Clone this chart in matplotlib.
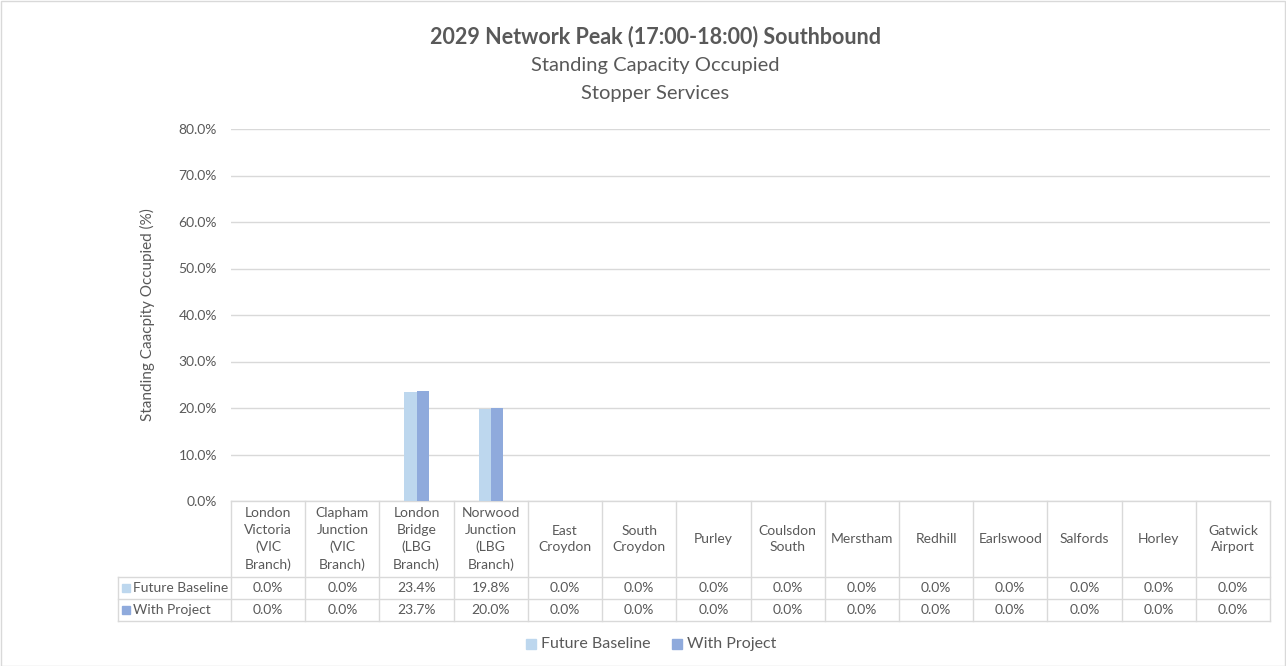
import matplotlib
matplotlib.use("Agg")
import matplotlib.pyplot as plt
from matplotlib.transforms import blended_transform_factory
from matplotlib.patches import Rectangle
import numpy as np

categories = ["London\nVictoria\n(VIC\nBranch)", "Clapham\nJunction\n(VIC\nBranch)",
              "London\nBridge\n(LBG\nBranch)", "Norwood\nJunction\n(LBG\nBranch)",
              "East\nCroydon", "South\nCroydon", "Purley", "Coulsdon\nSouth", "Merstham",
              "Redhill", "Earlswood", "Salfords", "Horley", "Gatwick\nAirport"]
future_baseline = [0.0, 0.0, 23.4, 19.8, 0.0, 0.0, 0.0, 0.0, 0.0, 0.0, 0.0, 0.0, 0.0, 0.0]
with_project = [0.0, 0.0, 23.7, 20.0, 0.0, 0.0, 0.0, 0.0, 0.0, 0.0, 0.0, 0.0, 0.0, 0.0]
series_names = ["Future Baseline", "With Project"]
yticks = [0, 10, 20, 30, 40, 50, 60, 70, 80]

plt.rcParams['font.family'] = ['Lato', 'DejaVu Sans']
TXT = "#595959"
GRID = "#D9D9D9"
C1 = "#BDD7EE"
C2 = "#8FAADC"

W, H = 1286, 666
fig = plt.figure(figsize=(W / 100, H / 100), dpi=100)
ax_l, ax_r, ax_t, ax_b = 231, 1270, 129, 501
ax = fig.add_axes([ax_l / W, 1 - ax_b / H, (ax_r - ax_l) / W, (ax_b - ax_t) / H])

n = len(categories)
x = np.arange(n)
bw = 0.165
ax.bar(x - bw / 2, future_baseline, bw, color=C1, zorder=3)
ax.bar(x + bw / 2, with_project, bw, color=C2, zorder=3)
ax.set_xlim(-0.5, n - 0.5)
ax.set_ylim(0, 80)
ax.set_yticks(yticks)
ax.set_yticklabels([f"{v:.1f}%" for v in yticks], color=TXT, fontsize=10)
ax.tick_params(axis='y', length=0, pad=10)
ax.set_xticks([])
ax.grid(axis='y', color=GRID, linewidth=1, zorder=0)
for s in ax.spines.values():
    s.set_visible(False)
ax.set_ylabel("Standing Caacpity Occupied (%)", color=TXT, fontsize=11, labelpad=17)

# table
tr = blended_transform_factory(ax.transData, ax.transAxes)
axh = ax_b - ax_t
def ay(py):
    return (ax_b - py) / axh
y_hdr_top, y_r1, y_r2, y_r3 = ay(501), ay(577), ay(599), ay(621)
x_left = (118 - ax_l) / ((ax_r - ax_l) / n) - 0.5
lkw = dict(color=GRID, linewidth=1, transform=tr, clip_on=False)
for b in np.arange(n + 1) - 0.5:
    ax.plot([b, b], [y_hdr_top, y_r3], **lkw)
for yy in [y_hdr_top]:
    ax.plot([-0.5, n - 0.5], [yy, yy], **lkw)
for yy in [y_r1, y_r2, y_r3]:
    ax.plot([x_left, n - 0.5], [yy, yy], **lkw)
ax.plot([x_left, x_left], [y_r1, y_r3], **lkw)

for i, c in enumerate(categories):
    ax.text(i, (y_hdr_top + y_r1) / 2, c, transform=tr, ha='center', va='center',
            fontsize=10, color=TXT, linespacing=1.45, clip_on=False)
for row, (vals, name, col) in enumerate([(future_baseline, series_names[0], C1),
                                          (with_project, series_names[1], C2)]):
    ytop = [y_r1, y_r2][row]
    ybot = [y_r2, y_r3][row]
    yc = (ytop + ybot) / 2
    for i, v in enumerate(vals):
        ax.text(i, yc, f"{v:.1f}%", transform=tr, ha='center', va='center',
                fontsize=10, color=TXT, clip_on=False)
    sq = 8 / axh
    ax.add_patch(Rectangle((x_left + 0.06, yc - sq / 2), 0.105, sq, transform=tr,
                           color=col, clip_on=False))
    ax.text(x_left + 0.2, yc, name, transform=tr, ha='left', va='center',
            fontsize=10, color=TXT, clip_on=False)

# titles
fig.text(655 / W, 1 - 37 / H, "2029 Network Peak (17:00-18:00) Southbound", ha='center',
         va='center', fontsize=15.5, fontweight='bold', color=TXT)
fig.text(655 / W, 1 - 65 / H, "Standing Capacity Occupied", ha='center', va='center',
         fontsize=14.5, color=TXT)
fig.text(655 / W, 1 - 93 / H, "Stopper Services", ha='center', va='center',
         fontsize=14.5, color=TXT)

# legend
fig.patches.append(Rectangle((526 / W, 1 - 649 / H), 10 / W, 10 / H, transform=fig.transFigure,
                             color=C1))
fig.text(541 / W, 1 - 644 / H, series_names[0], ha='left', va='center', fontsize=11.5, color=TXT)
fig.patches.append(Rectangle((672 / W, 1 - 649 / H), 10 / W, 10 / H, transform=fig.transFigure,
                             color=C2))
fig.text(687 / W, 1 - 644 / H, series_names[1], ha='left', va='center', fontsize=11.5, color=TXT)

# frame
fig.patches.append(Rectangle((0.5 / W, 0.5 / H), (W - 1.5) / W, (H - 1.5) / H,
                             transform=fig.transFigure, fill=False, edgecolor=GRID, linewidth=1))

fig.savefig("out.png", dpi=100)
